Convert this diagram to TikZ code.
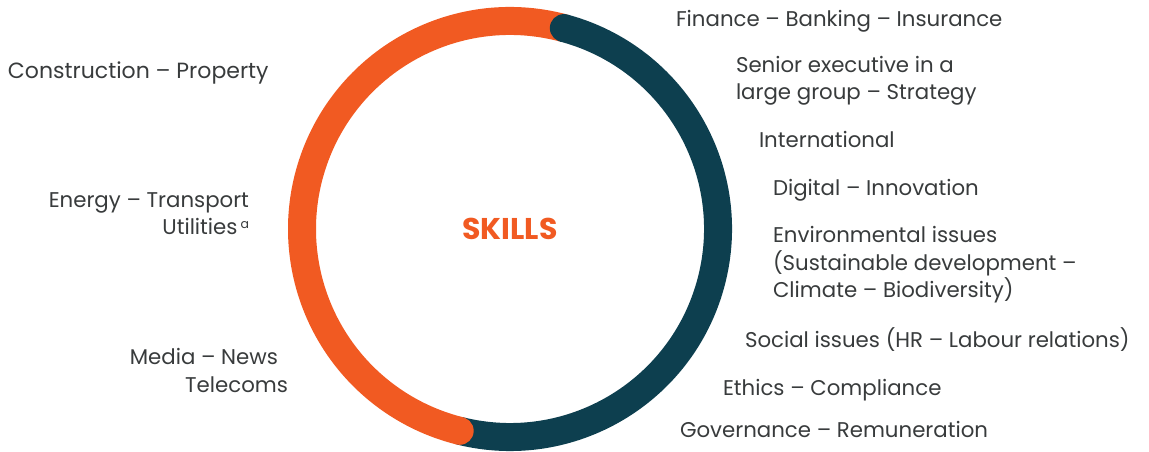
\documentclass[tikz,border=0pt]{standalone}
\usepackage{fontspec}
\setmainfont{Poppins}
\begin{document}
\begin{tikzpicture}[x=1pt,y=1pt,
  label/.style={text=txtgray, inner sep=0pt, outer sep=0pt,
    font=\fontsize{21.3}{27.5}\selectfont},
  leftlbl/.style={label, anchor=base west, align=left},
  rightlbl/.style={label, anchor=base east, align=right}]
\definecolor{ringorange}{HTML}{F15A22}
\definecolor{ringteal}{HTML}{0D3F4F}
\definecolor{txtgray}{HTML}{383B3C}
\useasboundingbox (0,0) rectangle (1149,452);
% ring
\coordinate (c) at (510,223);
\draw[ringorange, line width=28pt] (c) ++(75:208) arc[start angle=75, end angle=256, radius=208];
\draw[ringteal, line width=28pt] (c) ++(75:208) arc[start angle=75, end angle=-104, radius=208];
\fill[ringteal] (c) ++(75:208) circle[radius=14];
\fill[ringorange] (c) ++(256:208) circle[radius=14];
% centre
\node[text=ringorange, inner sep=0pt, anchor=base, font=\fontsize{30}{30}\selectfont\bfseries] (skills) at (510,212) {SKILLS};
% right column (multi-line nodes are placed by their last baseline)
\node[leftlbl] (fin) at (676,425) {Finance – Banking – Insurance};
\node[leftlbl] (sen) at (736,352) {Senior executive in a\\large group – Strategy};
\node[leftlbl] (intl) at (759,304) {International};
\node[leftlbl] (dig) at (773,256) {Digital – Innovation};
\node[leftlbl] (env) at (773,154) {Environmental issues\\(Sustainable development –\\Climate – Biodiversity)};
\node[leftlbl] (soc) at (745,104) {Social issues (HR – Labour relations)};
\node[leftlbl] (eth) at (723,56) {Ethics – Compliance};
\node[leftlbl] (gov) at (680,14) {Governance – Remuneration};
% left column
\node[leftlbl, font=\fontsize{22}{27.5}\selectfont] (con) at (8,373) {Construction – Property};
\node[rightlbl] (ene) at (249,217) {Energy – Transport\\Utilities\kern3pt\raisebox{6.5pt}{\fontsize{12.5}{12.5}\selectfont a}};
\node[rightlbl] (med) at (278,87) {Media – News};
\node[rightlbl] (tel) at (288,59) {Telecoms};
\end{tikzpicture}
\end{document}
